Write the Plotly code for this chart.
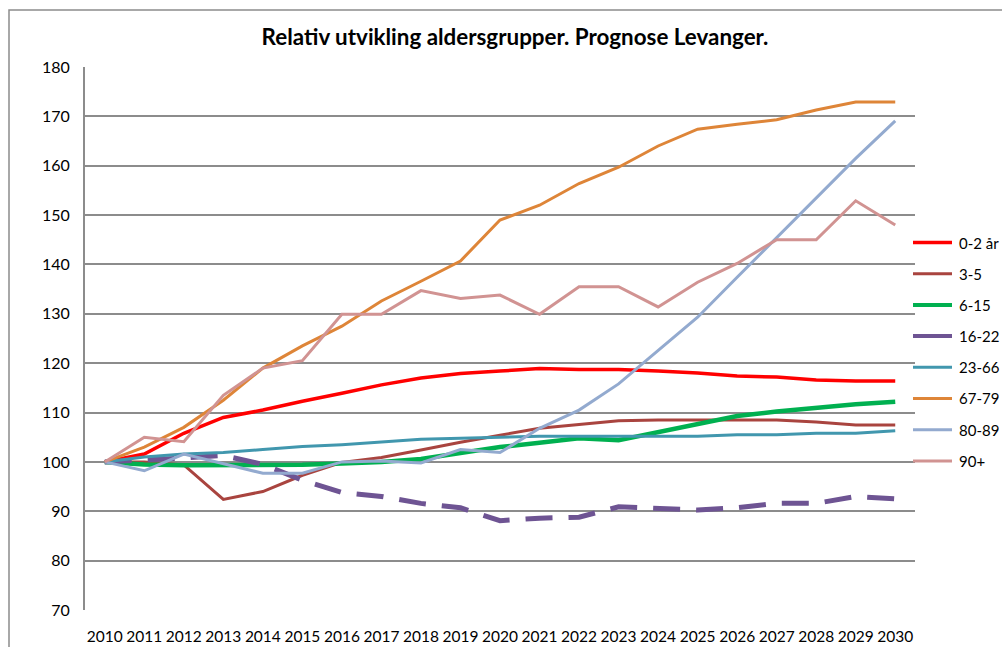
import plotly.graph_objects as go

years = [str(y) for y in range(2010, 2031)]

s_0_2 = [100, 101.6, 105.8, 109.0, 110.5, 112.3, 113.9, 115.6, 117.0, 117.9, 118.4, 118.9, 118.7, 118.7, 118.4, 118.0, 117.4, 117.2, 116.6, 116.4, 116.4]
s_3_5 = [100, 100.0, 99.4, 92.4, 94.0, 97.3, 99.9, 100.9, 102.4, 104.0, 105.4, 106.8, 107.6, 108.35, 108.5, 108.5, 108.6, 108.5, 108.1, 107.5, 107.5]
s_6_15 = [100, 99.5, 99.3, 99.3, 99.4, 99.4, 99.7, 100.0, 100.6, 101.8, 103.0, 103.9, 104.8, 104.4, 106.1, 107.7, 109.3, 110.2, 111.0, 111.7, 112.2]
s_16_22 = [100, 100.3, 100.8, 101.3, 99.5, 96.3, 93.8, 93.0, 91.6, 90.7, 88.1, 88.6, 88.8, 90.9, 90.7, 90.25, 90.7, 91.6, 91.6, 93.0, 92.5]
s_23_66 = [100, 101.0, 101.6, 101.9, 102.5, 103.1, 103.5, 104.0, 104.6, 104.8, 105.0, 105.2, 105.2, 105.2, 105.2, 105.2, 105.5, 105.5, 105.8, 105.8, 106.3]
s_67_79 = [100, 103.0, 107.0, 112.5, 119.0, 123.5, 127.5, 132.6, 136.6, 140.7, 149.0, 152.0, 156.4, 159.7, 164.0, 167.4, 168.4, 169.3, 171.3, 172.9, 172.9]
s_80_89 = [100, 98.2, 101.6, 99.6, 97.7, 97.7, 100.0, 100.2, 99.8, 102.5, 101.9, 106.8, 110.5, 115.8, 122.5, 129.3, 137.4, 145.5, 153.6, 161.5, 169.1]
s_90 = [100, 105.0, 104.1, 113.5, 119.0, 120.5, 129.9, 129.9, 134.7, 133.1, 133.8, 129.9, 135.5, 135.5, 131.4, 136.4, 140.2, 145.0, 145.0, 152.9, 148.0]

names = ["0-2 år", "3-5", "6-15", "16-22", "23-66", "67-79", "80-89", "90+"]
series = [s_0_2, s_3_5, s_6_15, s_16_22, s_23_66, s_67_79, s_80_89, s_90]
colors = ["#FF0000", "#A9443F", "#00B050", "#6E5493", "#4197AE", "#DE8538", "#93AACF", "#D19392"]
widths = [3.5, 3, 4.5, 5, 3, 3, 3, 3]
dashes = ["solid", "solid", "solid", "dash", "solid", "solid", "solid", "solid"]

fig = go.Figure()
for n, s, c, w, d in zip(names, series, colors, widths, dashes):
    fig.add_trace(go.Scatter(
        x=years, y=s, name=n, mode="lines", showlegend=False,
        line=dict(color=c, width=w, dash=("27px,16px" if d == "dash" else d)),
    ))

# body margin is removed via post_script, so figure pixels = screen pixels
W, H = 1002, 647
L, T = 85, 67
R = W - 915
B = H - 610
pw, ph = W - L - R, H - T - B


def px_x(x):
    return (x - L) / pw


def px_y(y):
    return (H - B - y) / ph


fig.update_layout(
    width=W, height=H,
    margin=dict(l=L, r=R, t=T, b=B, pad=0, autoexpand=False),
    paper_bgcolor="white", plot_bgcolor="white",
    font=dict(family="Lato, Carlito, Calibri, sans-serif", size=16, color="#000000"),
    title=dict(text="<b>Relativ utvikling aldersgrupper. Prognose Levanger.</b>",
               x=515 / W, xanchor="center", y=1 - 37 / H, yanchor="middle",
               font=dict(size=22.4, family="Lato, Carlito, Calibri, sans-serif", color="#000")),
    showlegend=False,
    xaxis=dict(type="category", range=[-0.5, 20.5], showgrid=False,
               showline=False, zeroline=False, automargin=False,
               ticks="outside", ticklen=12, tickcolor="rgba(0,0,0,0)",
               tickfont=dict(size=15.5)),
    yaxis=dict(range=[70, 180], dtick=10, tick0=70,
               showgrid=True, gridcolor="#8C8C8C", gridwidth=1.5,
               showline=True, linecolor="#8C8C8C", linewidth=2,
               zeroline=False, automargin=False,
               ticks="outside", ticklen=10, tickcolor="rgba(0,0,0,0)",
               tickfont=dict(size=16)),
)

# legend drawn as line samples + text labels (right of plot area)
for i, (n, c, w) in enumerate(zip(names, colors, widths)):
    yy = px_y(242.5 + 31.2 * i)
    fig.add_shape(type="line", xref="paper", yref="paper",
                  x0=px_x(913), x1=px_x(952), y0=yy, y1=yy,
                  line=dict(color=c, width=min(w, 4)))
    fig.add_annotation(xref="paper", yref="paper", x=px_x(957), y=yy,
                       xanchor="left", yanchor="middle", text=n, showarrow=False,
                       font=dict(size=15, color="#000"))

# outer chart border
fig.add_shape(type="rect", xref="paper", yref="paper",
              x0=px_x(9), x1=px_x(1030),
              y0=px_y(680), y1=px_y(10),
              line=dict(color="#8C8C8C", width=1.5), fillcolor="rgba(0,0,0,0)", layer="below")

fig.write_html("out.html",
               config={"displayModeBar": False},
               post_script="document.body.style.margin='0';document.documentElement.style.overflow='hidden';")
